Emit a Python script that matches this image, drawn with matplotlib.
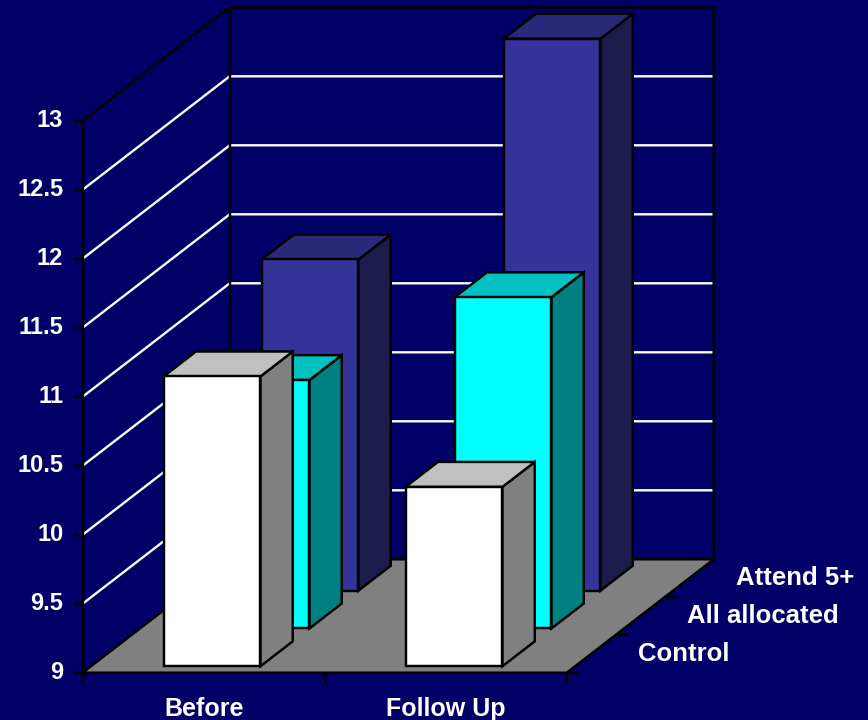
import matplotlib
matplotlib.use('Agg')
import matplotlib.pyplot as plt
from matplotlib.patches import Polygon

##-----------------------------------------------------------------------------

categories    = ['Before', 'Follow Up']
series        = ['Control', 'All allocated', 'Attend 5+']
control       = [11.1, 10.3]
all_allocated = [10.8, 11.4]
attend_5plus  = [11.4, 13.0]
y_ticks       = [9, 9.5, 10, 10.5, 11, 11.5, 12, 12.5, 13]

values = [control, all_allocated, attend_5plus]

bg        = '#000066'
front_col = ['#FFFFFF', '#00FFFF', '#333399']
top_col   = ['#C0C0C0', '#00C0C0', '#29297A']
side_col  = ['#808080', '#008080', '#1C1C4C']

y_min, y_max = y_ticks[0], y_ticks[-1]
n_cat = len(categories)
n_ser = len(series)
bar_w = 0.40   ## fraction of category width
bar_d = 0.22   ## fraction of total depth

## oblique projection: depth d in [0, 1] shifts the point right and up
KU = 0.6074
KV = 0.8217

def proj(u, v, d):
    return (u + KU * d, v + KV * d)

plt.rcParams['font.family'] = ['Liberation Sans', 'DejaVu Sans']
plt.rcParams['font.weight'] = 'bold'

fig = plt.figure(figsize=(8.68, 7.2), dpi=100, facecolor=bg)
ax = fig.add_axes([0, 0, 1, 1])
ax.set_xlim(-0.3417, 3.2450)
ax.set_ylim(8.6572, 13.8746)
ax.axis('off')

lw_edge = 1.75

def line(pts, z, **kw):
    xs, ys = zip(*pts)
    ax.plot(xs, ys, solid_capstyle='butt', zorder=z, **kw)

## walls: gridlines on side and back wall
for v in y_ticks[1:-1]:
    line([proj(0, v, 0), proj(0, v, 1), proj(n_cat, v, 1)], 0.5, color='white', lw=1.7)

## wall edges
line([proj(0, y_max, 0), proj(0, y_max, 1), proj(n_cat, y_max, 1), proj(n_cat, y_min, 1)],
     0.6, color='black', lw=lw_edge)
line([proj(0, y_min, 1), proj(0, y_max, 1)], 0.6, color='black', lw=lw_edge)

## floor
floor = [proj(0, y_min, 0), proj(n_cat, y_min, 0), proj(n_cat, y_min, 1), proj(0, y_min, 1)]
ax.add_patch(Polygon(floor, closed=True, facecolor='#808080', edgecolor='black',
                     lw=lw_edge, zorder=1))

## value axis
tick_len_v = 10 / 138
tick_len_u = 10 / 242
line([proj(0, y_max, 0), (0, y_min - tick_len_v)], 1.1, color='black', lw=lw_edge)
for v in y_ticks:
    line([(-tick_len_u, v), (0, v)], 1.1, color='black', lw=lw_edge)
    ax.text(-0.08, v, '%g' % v, ha='right', va='center', color='white', fontsize=17)

## category axis
for j in range(n_cat + 1):
    line([(j, y_min), (j, y_min - tick_len_v)], 1.1, color='black', lw=lw_edge)
for j, cat in enumerate(categories):
    ax.text(j + 0.5, y_min - 36 / 138, cat, ha='center', va='center', color='white', fontsize=18)

## depth axis
for i in range(n_ser):
    x0, y0 = proj(n_cat, y_min, i / n_ser)
    line([(x0, y0), (x0 + 0.05, y0)], 1.1, color='black', lw=lw_edge)
    xl, yl = proj(n_cat, y_min, (i + 0.5) / n_ser)
    ax.text(xl + 0.194, yl, series[i], ha='left', va='center', color='white', fontsize=18.5)

## bars, back row first
for i in reversed(range(n_ser)):
    df = (i + 0.5) / n_ser - bar_d / 2
    db = df + bar_d
    for j in range(n_cat):
        u0 = j + 0.5 - bar_w / 2
        u1 = u0 + bar_w
        v = values[i][j]
        front = [proj(u0, y_min, df), proj(u1, y_min, df), proj(u1, v, df), proj(u0, v, df)]
        top   = [proj(u0, v, df), proj(u1, v, df), proj(u1, v, db), proj(u0, v, db)]
        side  = [proj(u1, y_min, df), proj(u1, y_min, db), proj(u1, v, db), proj(u1, v, df)]
        for face, col in ((side, side_col[i]), (top, top_col[i]), (front, front_col[i])):
            ax.add_patch(Polygon(face, closed=True, facecolor=col, edgecolor='black',
                                 lw=lw_edge, joinstyle='miter', zorder=3))

fig.savefig('out.png', dpi=100, facecolor=bg)
